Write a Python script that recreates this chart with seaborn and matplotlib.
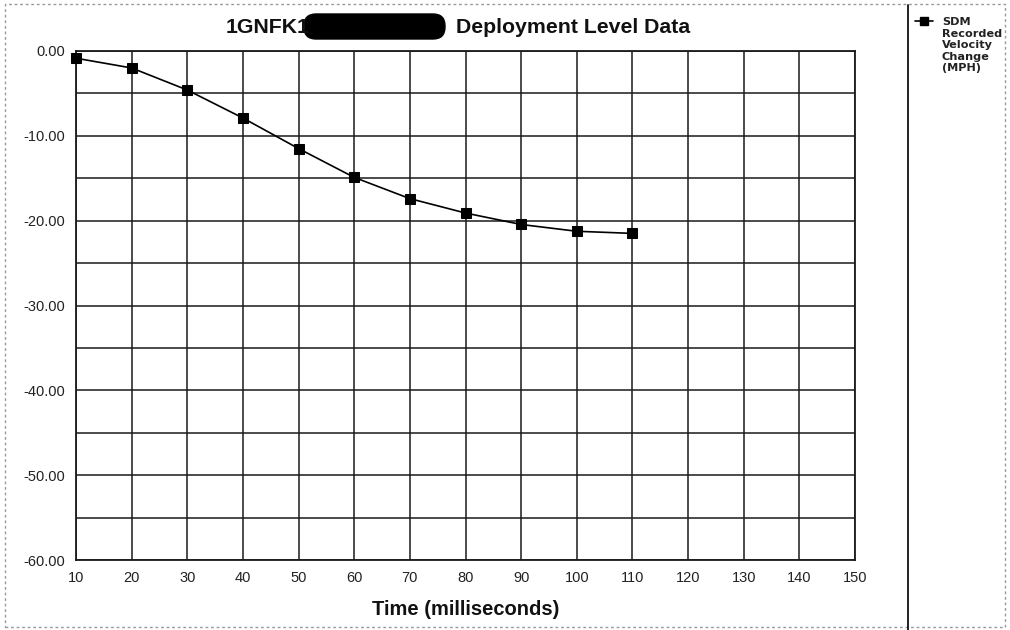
import numpy as np
import pandas as pd
import matplotlib
matplotlib.use("Agg")
import matplotlib.pyplot as plt
from matplotlib.patches import FancyBboxPatch, Rectangle
from matplotlib.lines import Line2D
from matplotlib.transforms import IdentityTransform
import seaborn as sns

# ---- data ----
time_ms = [10, 20, 30, 40, 50, 60, 70, 80, 90, 100, 110]
velocity_change = [-0.85, -2.0, -4.6, -7.9, -11.5, -14.9, -17.4, -19.1, -20.45, -21.25, -21.5]
series_label = "SDM\nRecorded\nVelocity\nChange\n(MPH)"
x_ticks = [10, 20, 30, 40, 50, 60, 70, 80, 90, 100, 110, 120, 130, 140, 150]
y_ticks = [0, -10, -20, -30, -40, -50, -60]
y_minor = [-5, -15, -25, -35, -45, -55]

sns.set_style("white")
plt.rcParams['font.family'] = ['Liberation Sans', 'DejaVu Sans']

W, H = 1010, 630
fig = plt.figure(figsize=(W / 100, H / 100), dpi=100)
ax = fig.add_axes([76 / W, 1 - 560 / H, (855 - 76) / W, (560 - 51) / H])

df = pd.DataFrame({"t": time_ms, "v": velocity_change})
sns.lineplot(data=df, x="t", y="v", ax=ax, color="black", linewidth=1.2,
             marker="s", markersize=7.5, markeredgecolor="black",
             markerfacecolor="black", zorder=5, clip_on=False)

ax.set_xlim(10, 150)
ax.set_ylim(-60, 0)
ax.set_xticks(x_ticks)
ax.set_xticklabels([str(v) for v in x_ticks])
ax.set_yticks(y_ticks)
ax.set_yticklabels([f"{v:.2f}" for v in y_ticks])
ax.set_yticks(y_minor, minor=True)
ax.grid(True, which="major", color="#1a1a1a", linewidth=1.1)
ax.grid(True, which="minor", axis="y", color="#1a1a1a", linewidth=1.1)
ax.tick_params(axis="x", which="major", length=5, width=1.1, color="#1a1a1a",
               labelsize=10.5, pad=3)
ax.tick_params(axis="y", which="major", length=4, width=1.1, color="#1a1a1a",
               labelsize=10.5, pad=4)
ax.tick_params(axis="y", which="minor", length=0)
for lbl in ax.get_xticklabels() + ax.get_yticklabels():
    lbl.set_color("#222222")
for s in ax.spines.values():
    s.set_color("#1a1a1a")
    s.set_linewidth(1.3)
ax.set_xlabel("Time (milliseconds)", fontsize=14.5, fontweight="bold",
              color="#111111", labelpad=11)
ax.set_ylabel("")

# ---- title with redaction blob ----
fig.text(226 / W, 1 - 27.5 / H, "1GNFK1", fontsize=15.3, fontweight="bold",
         ha="left", va="center", color="#111111")
fig.text(456 / W, 1 - 27.5 / H, "Deployment Level Data", fontsize=15.3,
         fontweight="bold", ha="left", va="center", color="#111111")
blob = FancyBboxPatch((304, H - 39), 445 - 304, 25,
                      boxstyle="round,pad=0,rounding_size=12",
                      transform=IdentityTransform(), facecolor="black",
                      edgecolor="black")
fig.patches.append(blob)

# ---- frame lines ----
frame = Rectangle((5 / W, 3 / H), (1005 - 5) / W, (626 - 3) / H,
                  transform=fig.transFigure, fill=False, edgecolor="#999999",
                  linewidth=1.0, linestyle=(0, (2, 2)))
fig.patches.append(frame)
fig.add_artist(Line2D([908 / W, 908 / W], [0, 1 - 5 / H],
                      transform=fig.transFigure, color="#222222", linewidth=1.4))

# ---- legend (handle + label lines) ----
fig.add_artist(Line2D([915 / W, 933 / W], [1 - 21 / H, 1 - 21 / H],
                      transform=fig.transFigure, color="black", linewidth=1.2))
fig.add_artist(Line2D([924 / W], [1 - 21 / H], transform=fig.transFigure,
                      color="black", marker="s", markersize=5.5, linestyle="none"))
for i, line in enumerate(series_label.split("\n")):
    fig.text(942 / W, 1 - (22 + i * 11.6) / H, line, fontsize=8.1,
             fontweight="bold", ha="left", va="center", color="#222222",
             family=["DejaVu Sans"])

fig.savefig("out.png", dpi=100, facecolor="white")
